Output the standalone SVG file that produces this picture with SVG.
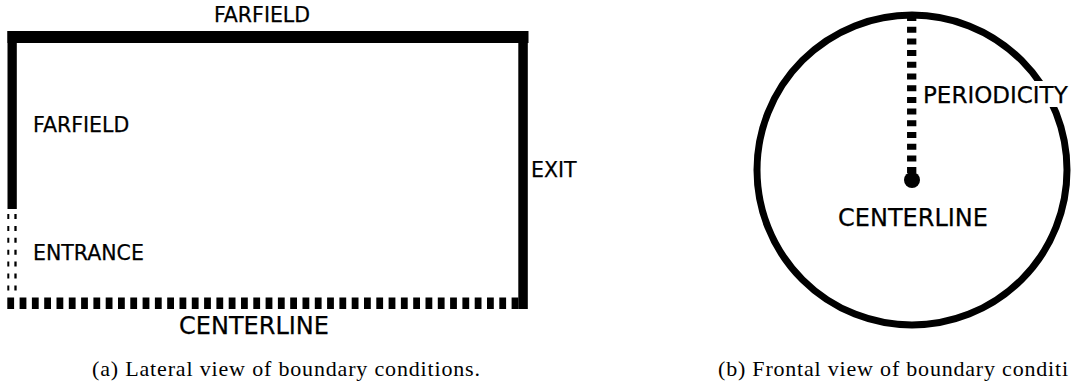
<svg xmlns="http://www.w3.org/2000/svg" width="1073" height="389" viewBox="0 0 1073 389">
<style>
.lbl{font-family:"DejaVu Sans",Verdana,sans-serif;fill:#000;stroke:#000;stroke-width:0.25}
.cap{font-family:"Liberation Serif","Times New Roman",serif;fill:#000;font-size:22px}
.solid{fill:#000}
</style>
<rect width="1073" height="389" fill="#fff"/>
<g id="lateral">
  <g id="farfield-top"><rect class="solid" x="7.5" y="31" width="521" height="12"/></g>
  <g id="farfield-left"><rect class="solid" x="7.5" y="31" width="9.3" height="178"/></g>
  <g id="exit"><rect class="solid" x="518.3" y="31" width="9.5" height="278"/></g>
  <g id="centerline-bottom"><line x1="7.3" y1="303.3" x2="518.5" y2="303.3" stroke="#000" stroke-width="11.5" stroke-dasharray="6.8 5.5"/></g>
  <g id="entrance">
    <line x1="8.3" y1="214" x2="8.3" y2="291" stroke="#000" stroke-width="2" stroke-dasharray="5 6.9"/>
    <line x1="15.5" y1="214" x2="15.5" y2="291" stroke="#000" stroke-width="2.3" stroke-dasharray="5 6.9"/>
  </g>
  <text class="lbl" x="262" y="22" font-size="20.5" text-anchor="middle">FARFIELD</text>
  <text class="lbl" x="33" y="132" font-size="20.5">FARFIELD</text>
  <text class="lbl" x="531" y="177" font-size="20.5">EXIT</text>
  <text class="lbl" x="33" y="260" font-size="20.5">ENTRANCE</text>
  <text class="lbl" x="254" y="334" font-size="24" text-anchor="middle">CENTERLINE</text>
  <text class="cap" x="92" y="376" textLength="388" lengthAdjust="spacing">(a) Lateral view of boundary conditions.</text>
</g>
<g id="frontal">
  <g id="outer-circle"><circle cx="912" cy="170" r="155" fill="none" stroke="#000" stroke-width="7"/></g>
  <g id="periodicity"><line x1="911.7" y1="15" x2="911.7" y2="176" stroke="#000" stroke-width="9.3" stroke-dasharray="6 5.7"/></g>
  <g id="centerline-dot"><circle cx="912" cy="180" r="8" fill="#000"/></g>
  <rect x="921" y="81" width="152" height="26" fill="#fff"/>
  <text class="lbl" x="923" y="103" font-size="23">PERIODICITY</text>
  <text class="lbl" x="913" y="226" font-size="24" text-anchor="middle">CENTERLINE</text>
  <text class="cap" x="718" y="376" textLength="350" lengthAdjust="spacing">(b) Frontal view of boundary conditi</text>
</g>
</svg>
